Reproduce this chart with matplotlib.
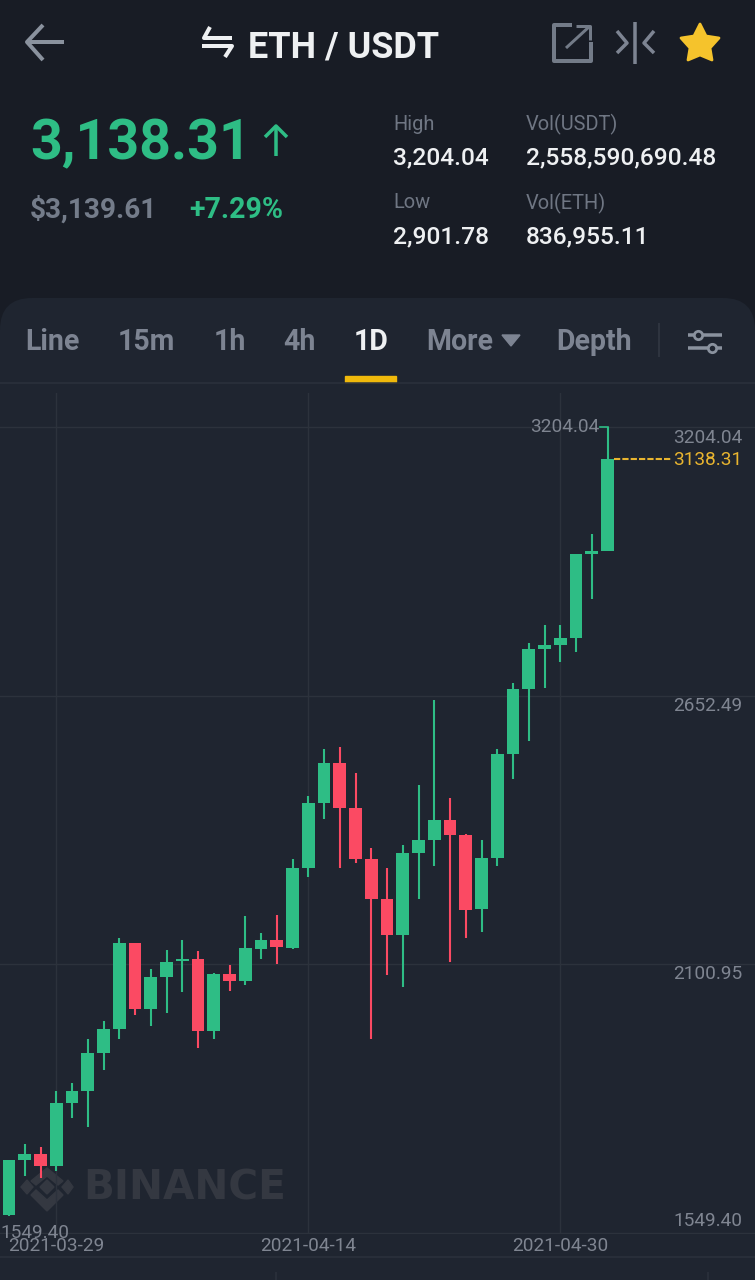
import matplotlib
matplotlib.use('Agg')
import matplotlib.pyplot as plt
from matplotlib.patches import Polygon, FancyBboxPatch, Rectangle

#### DATA
dates = ['2021-03-29', '2021-04-14', '2021-04-30']
date_pos = [3, 19, 35]
price_ticks = [3204.04, 2652.49, 2100.95, 1549.40]

opens = [1586, 1699, 1712, 1687, 1816, 1841, 1919, 1968, 2145, 2009, 2075, 2108, 2112, 1964, 2081, 2067,
         2132, 2151, 2134, 2299, 2432, 2514, 2422, 2317, 2235, 2161, 2329, 2356, 2397, 2366, 2214, 2319,
         2533, 2666, 2748, 2756, 2771, 2943, 2949]
closes = [1699, 1712, 1687, 1816, 1841, 1919, 1968, 2145, 2009, 2075, 2106, 2112, 1964, 2081, 2067, 2134,
          2151, 2136, 2299, 2432, 2514, 2422, 2317, 2235, 2161, 2329, 2356, 2397, 2366, 2212, 2319, 2533,
          2666, 2748, 2756, 2771, 2943, 2949, 3138.31]
highs = [1699, 1732, 1726, 1841, 1857, 1948, 1985, 2155, 2138, 2091, 2130, 2151, 2128, 2083, 2099, 2200,
         2165, 2202, 2317, 2446, 2543, 2547, 2494, 2340, 2299, 2346, 2469, 2644, 2442, 2368, 2356, 2543,
         2678, 2761, 2798, 2798, 2781, 2984, 3204.04]
lows = [1584, 1666, 1662, 1677, 1785, 1767, 1884, 1948, 1997, 1974, 2001, 2044, 1929, 1948, 2046, 2058,
        2112, 2102, 2132, 2280, 2399, 2299, 2309, 1948, 2079, 2054, 2235, 2303, 2106, 2155, 2167, 2303,
        2481, 2559, 2668, 2722, 2742, 2851, 2949]

last_price = 3138.31
high_price = 3204.04

BG = '#181c25'
PANEL = '#1f2530'
GRID = '#2c323c'
GRAY = '#7d8492'
AXIS_TXT = '#7f8591'
WHITE = '#eef0f2'
GREEN = '#2ebd85'
RED = '#fb4a63'
YELLOW = '#e9b52f'
MARK = '#343841'

plt.rcParams['font.family'] = ['Roboto', 'DejaVu Sans']

W, H = 755, 1280
fig = plt.figure(figsize=(W / 100, H / 100), dpi=100, facecolor=BG)

#### SCREEN LAYER in pixel coords
ui = fig.add_axes([0, 0, 1, 1])
ui.set_xlim(0, W)
ui.set_ylim(H, 0)
ui.axis('off')


def px(size):
    return size * 72 / 100


def label(x, y, s, size, color, weight='normal', ha='left', **kw):
    ui.text(x, y + 2, s, fontsize=px(size), color=color, fontweight=weight, ha=ha, va='center', **kw)


def stroke(xs, ys, color, lw=3, **kw):
    ui.plot(xs, ys, color=color, lw=lw * 0.72, solid_capstyle='butt', **kw)


# top bar
stroke([27, 64], [42, 42], '#8a929e', 4)
stroke([43, 27, 43], [25, 42, 60], '#8a929e', 4)
stroke([210, 204, 232], [27, 38, 38], WHITE, 4)
stroke([202, 232, 225], [46, 46, 57], WHITE, 4)
label(248, 45, 'ETH / USDT', 36, WHITE, 'bold')
stroke([572, 554, 554, 591, 591], [25, 25, 61, 61, 42], '#737b88', 4)
stroke([566, 590], [48, 26], '#737b88', 3)
stroke([576, 590, 590], [26, 26, 40], '#737b88', 3)
stroke([617, 627, 617], [31, 43, 53], '#7d8492', 3.5)
stroke([654, 644, 654], [31, 43, 53], '#7d8492', 3.5)
stroke([635, 635], [22, 64], '#7d8492', 3.5)
star = [(700, 24), (706, 36), (719, 38), (710, 48), (712, 60), (700, 55), (688, 60), (690, 48), (681, 38), (694, 36)]
ui.add_patch(Polygon(star, closed=True, color='#f5c32c', joinstyle='round', lw=2))

# price block
label(30, 142, '3,138.31', 55.5, GREEN, 'bold')
stroke([276, 276], [126, 156], GREEN, 3.5)
stroke([265, 276, 287], [137, 126, 137], GREEN, 3.5)
label(30, 208, '$3,139.61', 28, '#747c8a', 'bold')
label(189, 208, '+7.29%', 28.5, GREEN, 'bold')
label(393, 122, 'High', 20, '#6f7683')
label(526, 122, 'Vol(USDT)', 20, '#6f7683')
label(393, 156, '3,204.04', 24.5, WHITE, 'medium')
label(526, 156, '2,558,590,690.48', 24.5, WHITE, 'medium')
label(393, 201, 'Low', 20, '#6f7683')
label(526, 201, 'Vol(ETH)', 20, '#6f7683')
label(393, 235, '2,901.78', 24.5, WHITE, 'medium')
label(526, 235, '836,955.11', 24.5, WHITE, 'medium')

# chart panel and tabs
ui.add_patch(FancyBboxPatch((0, 298), W, H, boxstyle='round,pad=0,rounding_size=32', fc=PANEL, ec='none', clip_on=True))
tabs = [('Line', 25), ('15m', 118), ('1h', 214), ('4h', 283), ('More', 426), ('Depth', 556)]
for name, x in tabs:
    label(x, 340, name, 28.5, GRAY, 'bold')
label(354, 340, '1D', 28.5, WHITE, 'bold')
ui.add_patch(Polygon([(502, 335), (520, 335), (511, 346)], closed=True, color=GRAY))
stroke([659, 659], [323, 357], '#343a45', 1.5)
stroke([688, 722], [335, 335], '#8a929e', 3.5)
stroke([688, 722], [348, 348], '#8a929e', 3.5)
ui.plot([698], [335], 'o', ms=6, mfc=PANEL, mec='#8a929e', mew=2)
ui.plot([712], [348], 'o', ms=6, mfc=PANEL, mec='#8a929e', mew=2)
stroke([0, W], [383, 383], GRID, 1.5)
ui.add_patch(Rectangle((345, 376), 51, 6, color='#f0b90b'))
stroke([0, W], [1257, 1257], GRID, 1.5)
stroke([276, 276], [1272, 1280], GRID, 1.5)
stroke([708, 708], [1272, 1280], GRID, 1.5)

# watermark
for d in [[(27, 1180), (33, 1187), (27, 1194), (21, 1187)],
          [(47, 1180), (54, 1187), (47, 1194), (40, 1187)],
          [(68, 1180), (73, 1187), (68, 1194), (62, 1187)],
          [(47, 1168), (63, 1181), (58, 1185), (47, 1176), (36, 1185), (31, 1181)],
          [(47, 1211), (63, 1195), (58, 1190), (47, 1200), (36, 1190), (31, 1195)]]:
    ui.add_patch(Polygon(d, closed=True, color=MARK))
ui.text(83, 1189, 'BINANCE', fontsize=px(40.5), color=MARK, fontweight='bold',
        family='DejaVu Sans', va='center', ha='left')

#### CANDLES
top_px, bottom_px = 393, 1233
ax = fig.add_axes([0, 1 - bottom_px / H, 1, (bottom_px - top_px) / H])
ax.patch.set_alpha(0)
per_px = (price_ticks[0] - price_ticks[-1]) / (1233 - 427)
ax.set_ylim(price_ticks[-1], price_ticks[0] + (427 - top_px) * per_px)
ax.set_xlim(-9.0 / 15.75, (W - 9.0) / 15.75)

for i in range(len(opens)):
    color = GREEN if closes[i] >= opens[i] else RED
    ax.vlines(i, lows[i], highs[i], color=color, lw=1.5, zorder=3)
    ax.bar(i, abs(closes[i] - opens[i]), bottom=min(opens[i], closes[i]), width=0.8, color=color, zorder=4)

ax.set_yticks(price_ticks)
ax.set_xticks(date_pos)
ax.set_xticklabels(dates, fontsize=px(19), color=AXIS_TXT)
ax.set_yticklabels([])
ax.tick_params(length=0, pad=0)
ax.tick_params(axis='x', pad=3)
ax.grid(True, color=GRID, lw=1)
ax.set_axisbelow(True)
for side in ['top', 'left', 'right']:
    ax.spines[side].set_visible(False)
ax.spines['bottom'].set_color(GRID)

# price labels on the right
offsets = [-11, -10, -10, 12]
for v, off in zip(price_ticks, offsets):
    ax.annotate('%.2f' % v, (1, v), xycoords=('axes fraction', 'data'), xytext=(-13 * 0.72, off * 0.72),
                textcoords='offset points', ha='right', va='center', fontsize=px(19), color=AXIS_TXT)
ax.annotate('%.2f' % price_ticks[-1], (0, price_ticks[-1]), xycoords=('axes fraction', 'data'), xytext=(0, 0),
            textcoords='offset points', ha='left', va='center', fontsize=px(19), color=AXIS_TXT, annotation_clip=False)

# last price marker and high marker
last = len(opens) - 1
ax.plot([last + 0.4, 42.05], [last_price, last_price], color=YELLOW, lw=1.5, ls=(0, (3, 1)), zorder=3)
ax.annotate('%.2f' % last_price, (1, last_price), xycoords=('axes fraction', 'data'), xytext=(-13 * 0.72, -1),
            textcoords='offset points', ha='right', va='center', fontsize=px(19), color=YELLOW)
ax.plot([last - 0.45, last], [high_price, high_price], color=GREEN, lw=1.2, zorder=3)
ax.annotate('%.2f' % high_price, (last - 0.45, high_price), xytext=(-1, 0), textcoords='offset points',
            ha='right', va='center', fontsize=px(19), color=AXIS_TXT)

fig.savefig('out.png', dpi=100, facecolor=BG)
